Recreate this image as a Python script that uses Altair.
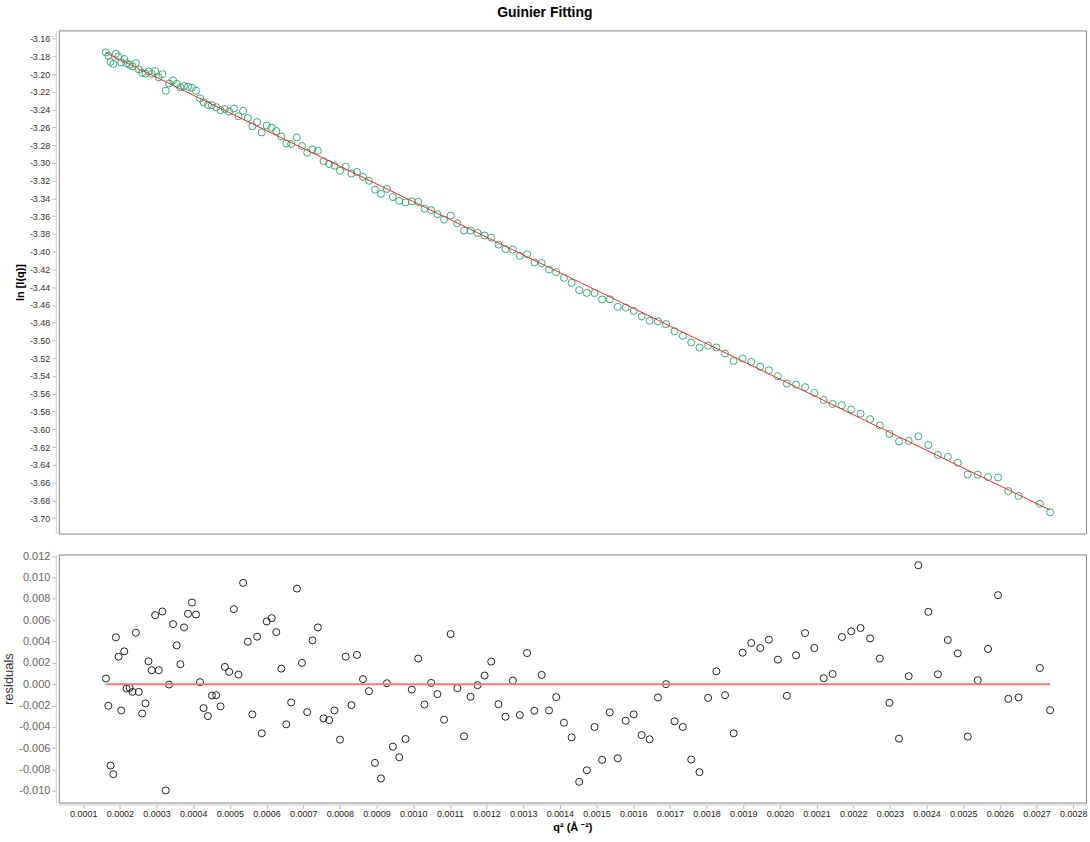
import altair as alt
import pandas as pd

# ---- data ----
q2 = [0.0001620, 0.0001685, 0.0001747, 0.0001821, 0.0001891, 0.0001965, 0.0002038, 0.0002120, 0.0002182, 0.0002264,
      0.0002345, 0.0002435, 0.0002516, 0.0002609, 0.0002698, 0.0002780, 0.0002870, 0.0002962, 0.0003060, 0.0003160,
      0.0003250, 0.0003342, 0.0003451, 0.0003549, 0.0003650, 0.0003750, 0.0003859, 0.0003967, 0.0004076, 0.0004185,
      0.0004283, 0.0004402, 0.0004511, 0.0004628, 0.0004745, 0.0004864, 0.0004981, 0.0005109, 0.0005234, 0.0005361,
      0.0005489, 0.0005614, 0.0005742, 0.0005870, 0.0006005, 0.0006141, 0.0006266, 0.0006402, 0.0006538, 0.0006671,
      0.0006829, 0.0006965, 0.0007109, 0.0007255, 0.0007400, 0.0007554, 0.0007707, 0.0007853, 0.0008005, 0.0008160,
      0.0008315, 0.0008467, 0.0008630, 0.0008793, 0.0008957, 0.0009120, 0.0009283, 0.0009446, 0.0009620, 0.0009791,
      0.0009962, 0.0010136, 0.0010307, 0.0010489, 0.0010660, 0.0010842, 0.0011022, 0.0011204, 0.0011386, 0.0011565,
      0.0011755, 0.0011946, 0.0012128, 0.0012326, 0.0012516, 0.0012717, 0.0012908, 0.0013106, 0.0013304, 0.0013505,
      0.0013704, 0.0013902, 0.0014111, 0.0014321, 0.0014527, 0.0014736, 0.0014946, 0.0015152, 0.0015361, 0.0015579,
      0.0015796, 0.0016014, 0.0016231, 0.0016448, 0.0016674, 0.0016897, 0.0017128, 0.0017353, 0.0017582, 0.0017807,
      0.0018043, 0.0018269, 0.0018505, 0.0018739, 0.0018984, 0.0019220, 0.0019465, 0.0019701, 0.0019946, 0.0020190,
      0.0020443, 0.0020688, 0.0020940, 0.0021196, 0.0021440, 0.0021693, 0.0021946, 0.0022201, 0.0022462, 0.0022726,
      0.0022989, 0.0023250, 0.0023514, 0.0023777, 0.0024049, 0.0024310, 0.0024582, 0.0024853, 0.0025125, 0.0025397,
      0.0025679, 0.0025951, 0.0026231, 0.0026511, 0.0027092, 0.0027372]

ln_i = [-3.1755, -3.1793, -3.1862, -3.1884, -3.1770, -3.1803, -3.1868, -3.1829, -3.1876, -3.1892,
        -3.1912, -3.1875, -3.1946, -3.1985, -3.1994, -3.1970, -3.1997, -3.1964, -3.2035, -3.2000,
        -3.2186, -3.2105, -3.2070, -3.2109, -3.2147, -3.2133, -3.2142, -3.2153, -3.2186, -3.2271,
        -3.2315, -3.2346, -3.2349, -3.2372, -3.2406, -3.2393, -3.2421, -3.2387, -3.2474, -3.2413,
        -3.2494, -3.2587, -3.2540, -3.2656, -3.2578, -3.2602, -3.2640, -3.2702, -3.2781, -3.2787,
        -3.2712, -3.2809, -3.2884, -3.2846, -3.2863, -3.2979, -3.3011, -3.3031, -3.3089, -3.3042,
        -3.3119, -3.3102, -3.3157, -3.3201, -3.3301, -3.3348, -3.3292, -3.3384, -3.3428, -3.3445,
        -3.3433, -3.3439, -3.3516, -3.3533, -3.3577, -3.3638, -3.3593, -3.3680, -3.3762, -3.3761,
        -3.3788, -3.3817, -3.3840, -3.3920, -3.3970, -3.3976, -3.4046, -3.4028, -3.4122, -3.4128,
        -3.4201, -3.4229, -3.4294, -3.4350, -3.4433, -3.4464, -3.4465, -3.4537, -3.4535, -3.4621,
        -3.4629, -3.4667, -3.4730, -3.4777, -3.4783, -3.4815, -3.4896, -3.4947, -3.5023, -3.5080,
        -3.5058, -3.5078, -3.5147, -3.5230, -3.5203, -3.5241, -3.5295, -3.5335, -3.5402, -3.5485,
        -3.5497, -3.5526, -3.5590, -3.5670, -3.5714, -3.5730, -3.5776, -3.5824, -3.5886, -3.5957,
        -3.6051, -3.6137, -3.6131, -3.6080, -3.6178, -3.6289, -3.6311, -3.6378, -3.6510, -3.6512,
        -3.6539, -3.6543, -3.6696, -3.6751, -3.6839, -3.6935]

residual = [0.00053, -0.00202, -0.00762, -0.00843, 0.00439, 0.00258, -0.00246, 0.00308, -0.00040, -0.00034,
            -0.00072, 0.00482, -0.00072, -0.00274, -0.00180, 0.00215, 0.00131, 0.00647, 0.00131, 0.00681,
            -0.00995, -0.00003, 0.00563, 0.00364, 0.00187, 0.00532, 0.00659, 0.00765, 0.00653, 0.00019,
            -0.00224, -0.00299, -0.00106, -0.00103, -0.00208, 0.00162, 0.00115, 0.00703, 0.00090, 0.00949,
            0.00398, -0.00283, 0.00445, -0.00460, 0.00588, 0.00619, 0.00488, 0.00146, -0.00376, -0.00171,
            0.00896, 0.00199, -0.00261, 0.00411, 0.00532, -0.00320, -0.00336, -0.00246, -0.00519, 0.00258,
            -0.00196, 0.00274, 0.00047, -0.00065, -0.00737, -0.00883, 0.00009, -0.00585, -0.00684, -0.00513,
            -0.00050, 0.00240, -0.00190, 0.00012, -0.00093, -0.00333, 0.00470, -0.00037, -0.00488, -0.00118,
            -0.00009, 0.00081, 0.00212, -0.00187, -0.00305, 0.00034, -0.00289, 0.00292, -0.00249, 0.00087,
            -0.00246, -0.00121, -0.00361, -0.00498, -0.00914, -0.00806, -0.00401, -0.00709, -0.00264, -0.00694,
            -0.00342, -0.00283, -0.00476, -0.00516, -0.00124, 0.00000, -0.00348, -0.00401, -0.00706, -0.00824,
            -0.00128, 0.00121, -0.00103, -0.00460, 0.00295, 0.00386, 0.00339, 0.00417, 0.00230, -0.00109,
            0.00271, 0.00479, 0.00339, 0.00056, 0.00096, 0.00442, 0.00495, 0.00526, 0.00429, 0.00240,
            -0.00174, -0.00510, 0.00075, 0.01114, 0.00678, 0.00093, 0.00414, 0.00289, -0.00491, 0.00037,
            0.00330, 0.00834, -0.00137, -0.00124, 0.00152, -0.00243]

fit_q2 = [0.0001620, 0.0027372]
fit_ln_i = [-3.1760, -3.6910]
fit_residual = [0.0, 0.0]

x_ticks = [0.0001, 0.0002, 0.0003, 0.0004, 0.0005, 0.0006, 0.0007, 0.0008, 0.0009, 0.0010,
           0.0011, 0.0012, 0.0013, 0.0014, 0.0015, 0.0016, 0.0017, 0.0018, 0.0019, 0.0020,
           0.0021, 0.0022, 0.0023, 0.0024, 0.0025, 0.0026, 0.0027, 0.0028]
top_ticks = [-3.16, -3.18, -3.20, -3.22, -3.24, -3.26, -3.28, -3.30, -3.32, -3.34, -3.36, -3.38, -3.40, -3.42,
             -3.44, -3.46, -3.48, -3.50, -3.52, -3.54, -3.56, -3.58, -3.60, -3.62, -3.64, -3.66, -3.68, -3.70]
res_ticks = [-0.010, -0.008, -0.006, -0.004, -0.002, 0.000, 0.002, 0.004, 0.006, 0.008, 0.010, 0.012]

pts = pd.DataFrame({"q2": q2, "lnI": ln_i, "res": residual})
fit = pd.DataFrame({"q2": fit_q2, "lnI": fit_ln_i, "res": fit_residual})

FONT = "Liberation Sans"
xscale = alt.Scale(domain=[0.0000334, 0.002835], nice=False, zero=False)
top_yscale = alt.Scale(domain=[-3.7175, -3.1507], nice=False, zero=False)
res_yscale = alt.Scale(domain=[-0.01109, 0.01215], nice=False, zero=False)

top_yaxis = alt.Axis(values=top_ticks, title="ln [I(q)]",
                     labelExpr="replace(format(datum.value, '.2f'), '\u2212', '-')",
                     labelFontSize=9, labelColor="#333333", labelFont=FONT,
                     titleFont=FONT, titleFontSize=11, titleFontWeight="bold", titleColor="#000000",
                     titlePadding=4, labelPadding=2)
res_yaxis = alt.Axis(values=res_ticks, title="residuals",
                     labelExpr="replace(format(datum.value, '.3f'), '\u2212', '-')",
                     labelFontSize=11, labelColor="#666666", labelFont=FONT,
                     titleFont=FONT, titleFontSize=13, titleFontWeight="normal", titleColor="#333333",
                     titlePadding=3, labelPadding=2)
xaxis = alt.Axis(values=x_ticks, title="q\u00b2 (\u00c5 \u207b\u00b2)",
                 labelExpr="format(datum.value, '.4f')",
                 labelFontSize=9, labelColor="#222222", labelFont=FONT,
                 titleFont=FONT, titleFontSize=11, titleFontWeight="bold", titleColor="#000000",
                 titlePadding=3, labelPadding=1, offset=2)

top_points = alt.Chart(pts).mark_point(
    shape="circle", filled=False, color="#3aa97a", size=50, strokeWidth=1, opacity=1
).encode(
    x=alt.X("q2:Q", scale=xscale, axis=None),
    y=alt.Y("lnI:Q", scale=top_yscale, axis=top_yaxis),
)
top_line = alt.Chart(fit).mark_line(color="#ee3030", strokeWidth=1).encode(
    x=alt.X("q2:Q", scale=xscale, axis=None),
    y=alt.Y("lnI:Q", scale=top_yscale, axis=top_yaxis),
)
top = alt.layer(top_points, top_line).properties(width=1031, height=505)

bot_points = alt.Chart(pts).mark_point(
    shape="circle", filled=False, color="#222222", size=50, strokeWidth=1, opacity=1
).encode(
    x=alt.X("q2:Q", scale=xscale, axis=xaxis),
    y=alt.Y("res:Q", scale=res_yscale, axis=res_yaxis),
)
bot_line = alt.Chart(fit).mark_line(color="#f47c7c", strokeWidth=2).encode(
    x=alt.X("q2:Q", scale=xscale, axis=xaxis),
    y=alt.Y("res:Q", scale=res_yscale, axis=res_yaxis),
)
bottom = alt.layer(bot_points, bot_line).properties(width=1031, height=249)

chart = alt.vconcat(top, bottom, spacing=15).properties(
    title=alt.TitleParams("Guinier Fitting", font=FONT, fontSize=14, fontWeight="bold",
                          color="#000000", anchor="middle", offset=10),
    padding={"left": 2, "top": 4, "right": 2, "bottom": 2},
    background="#ffffff",
).configure_view(
    stroke="#888888", strokeWidth=1
).configure_axis(
    grid=False, domainColor="#cccccc", tickColor="#bbbbbb", tickSize=4, offset=3,
)

chart.save("out.html", embed_options={"renderer": "svg", "actions": False})
